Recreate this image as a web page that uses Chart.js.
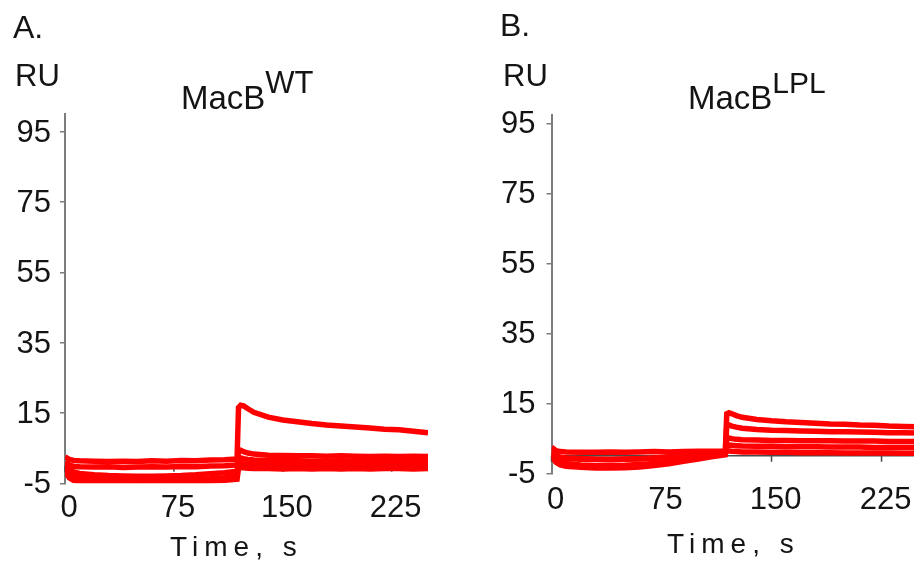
<!DOCTYPE html>
<html>
<head>
<meta charset="utf-8">
<script src="https://cdn.jsdelivr.net/npm/chart.js@4"></script>
<style>
  html, body { margin: 0; padding: 0; background: #fff; }
  #wrap { position: relative; width: 914px; height: 565px; overflow: hidden; background: #fff; }
  canvas { position: absolute; top: 0; }
  #cA { left: 0; }
  #cB { left: 487px; }
</style>
</head>
<body>
<div id="wrap">
  <canvas id="cA" width="457" height="565" style="width:457px;height:565px"></canvas>
  <canvas id="cB" width="440" height="565" style="width:440px;height:565px"></canvas>
</div>
<script>
// Sampling times of the sensorgrams (s); injection starts just before 120 s
const times = [0, 3, 6, 10, 20, 30, 40, 50, 60, 70, 80, 90, 100, 110, 118.5, 119.5,
               121, 123, 126, 130, 140, 150, 160, 170, 180, 190, 200, 210, 220, 230, 240, 250];

// Axis ticks
const ruTicks = [-5, 15, 35, 55, 75, 95];
const timeTicks = [0, 75, 150, 225];

// Response (RU) of MacB WT, one array per analyte concentration
const wt1 = [2.5, 1.8, 1.5, 1.4, 1.3, 1.2, 1.3, 1.2, 1.4, 1.3, 1.5, 1.4, 1.6, 1.7, 1.9, 16.5,
             17.2, 17.0, 16.2, 15.2, 13.8, 13.0, 12.5, 12.0, 11.6, 11.3, 11.0, 10.7, 10.4, 10.2, 9.8, 9.4];
const wt2 = [1.0, 0.2, -0.2, -0.3, -0.4, -0.3, -0.5, -0.4, -0.3, -0.4, -0.2, -0.3, -0.1, 0.0, 0.2, 4.2,
             4.4, 4.0, 3.6, 3.3, 3.0, 2.9, 2.8, 2.8, 2.7, 2.8, 2.7, 2.6, 2.7, 2.6, 2.7, 2.6];
const wt3 = [0.5, -1.0, -1.8, -2.2, -2.6, -2.8, -2.9, -3.0, -3.0, -2.9, -2.8, -2.6, -2.3, -2.0, -1.6, 2.0,
             2.2, 2.0, 1.8, 1.6, 1.5, 1.4, 1.4, 1.3, 1.3, 1.4, 1.3, 1.2, 1.3, 1.2, 1.3, 1.2];
const wt4 = [-0.5, -2.2, -3.0, -3.4, -3.8, -4.0, -4.1, -4.2, -4.1, -4.1, -4.0, -3.9, -3.7, -3.4, -3.0, 0.6,
             0.8, 0.6, 0.4, 0.3, 0.2, 0.2, 0.1, 0.2, 0.1, 0.2, 0.1, 0.2, 0.1, 0.2, 0.1, 0.2];
const wt5 = [-1.5, -3.5, -4.2, -4.5, -4.7, -4.9, -5.0, -5.0, -4.9, -4.9, -4.8, -4.6, -4.4, -4.1, -3.8, -0.6,
             -0.5, -0.6, -0.7, -0.8, -0.8, -0.9, -0.8, -0.9, -0.8, -0.9, -0.8, -0.9, -0.8, -0.8, -0.9, -0.8];

// Response (RU) of MacB LPL
const lpl1 = [2.5, 1.5, 1.2, 1.1, 1.0, 1.0, 1.1, 1.0, 1.1, 1.2, 1.1, 1.2, 1.3, 1.3, 1.4, 12.0,
              12.3, 12.0, 11.5, 11.0, 10.4, 10.0, 9.7, 9.5, 9.3, 9.1, 9.0, 8.8, 8.7, 8.5, 8.4, 8.3];
const lpl2 = [1.5, 0.2, -0.5, -0.8, -1.0, -1.0, -1.0, -0.9, -0.8, -0.6, -0.3, 0.0, 0.3, 0.6, 0.9, 8.6,
              8.8, 8.5, 8.2, 7.9, 7.5, 7.3, 7.2, 7.1, 7.0, 6.9, 6.9, 6.8, 6.7, 6.6, 6.6, 6.5];
const lpl3 = [0.5, -1.0, -1.8, -2.2, -2.6, -2.8, -2.8, -2.7, -2.5, -2.2, -1.8, -1.2, -0.6, 0.0, 0.5, 5.0,
              5.1, 4.9, 4.7, 4.6, 4.5, 4.4, 4.4, 4.3, 4.3, 4.3, 4.2, 4.2, 4.2, 4.1, 4.1, 4.1];
const lpl4 = [0.0, -1.8, -2.6, -3.0, -3.3, -3.5, -3.5, -3.4, -3.2, -2.8, -2.3, -1.6, -0.9, -0.2, 0.3, 3.0,
              3.1, 3.0, 2.9, 2.8, 2.7, 2.7, 2.6, 2.6, 2.6, 2.5, 2.5, 2.5, 2.4, 2.4, 2.4, 2.4];
const lpl5 = [1.0, 0.0, -0.4, -0.6, -0.8, -1.0, -1.1, -1.0, -0.9, -0.7, -0.5, -0.2, 0.1, 0.4, 0.7, 1.3,
              1.4, 1.3, 1.2, 1.1, 1.1, 1.0, 1.0, 0.9, 0.9, 0.9, 0.8, 0.8, 0.8, 0.8, 0.7, 0.7];

const FONT = '"Liberation Sans", Arial, Helvetica, sans-serif';
const TEXT = '#141414';
const AXIS = '#7c7c7c';

// Free-standing texts: panel letter, unit, title with superscript, axis title
const panelText = {
  id: 'panelText',
  afterDraw(chart, args, opts) {
    const ctx = chart.ctx;
    ctx.save();
    ctx.fillStyle = TEXT;
    ctx.textAlign = 'left';
    ctx.textBaseline = 'alphabetic';
    for (const it of opts.items) {
      ctx.font = it.size + 'px ' + FONT;
      ctx.letterSpacing = (it.spacing || 0) + 'px';
      ctx.fillText(it.text, it.x, it.y);
      if (it.sup) {
        const w = ctx.measureText(it.text).width;
        ctx.font = it.supSize + 'px ' + FONT;
        ctx.fillText(it.sup, it.x + w, it.supY);
      }
      ctx.letterSpacing = '0px';
    }
    ctx.restore();
  }
};

// Time axis drawn along RU = 0, underneath the traces
const zeroAxis = {
  id: 'zeroAxis',
  beforeDatasetsDraw(chart) {
    const { ctx, chartArea, scales } = chart;
    const y0 = scales.y.getPixelForValue(0);
    ctx.save();
    ctx.strokeStyle = '#4a4a4a';
    ctx.lineWidth = 1.5;
    ctx.beginPath();
    ctx.moveTo(chartArea.left, y0);
    ctx.lineTo(chartArea.right, y0);
    for (const t of timeTicks) {
      const x = scales.x.getPixelForValue(t);
      ctx.moveTo(x, y0);
      ctx.lineTo(x, y0 + 6);
    }
    ctx.stroke();
    ctx.restore();
  }
};

function makeDatasets(traces) {
  return traces.map(vals => ({
    data: vals.map((v, i) => ({ x: times[i], y: v })),
    borderColor: '#ff0000',
    backgroundColor: '#ff0000',
    borderWidth: 5.5,
    pointRadius: 0,
    tension: 0,
    fill: false
  }));
}

function makeChart(id, traces, cfg) {
  return new Chart(document.getElementById(id), {
    type: 'line',
    data: { datasets: makeDatasets(traces) },
    options: {
      responsive: false,
      animation: false,
      events: [],
      layout: { padding: cfg.padding },
      plugins: {
        legend: { display: false },
        tooltip: { enabled: false },
        panelText: { items: cfg.texts }
      },
      scales: {
        x: {
          type: 'linear',
          min: 0,
          max: 250,
          afterBuildTicks: s => { s.ticks = timeTicks.map(v => ({ value: v })); },
          afterFit: s => { s.height = cfg.xHeight; },
          grid: { display: false, drawTicks: false },
          border: { display: false },
          ticks: {
            font: { family: FONT, size: 31 },
            color: TEXT,
            padding: cfg.xPad,
            labelOffset: 4,
            maxRotation: 0,
            autoSkip: false
          }
        },
        y: {
          min: -5,
          max: cfg.yMax,
          afterBuildTicks: s => { s.ticks = ruTicks.map(v => ({ value: v })); },
          afterFit: s => { s.width = cfg.yWidth; },
          grid: {
            display: true,
            drawOnChartArea: false,
            drawTicks: true,
            tickLength: 5,
            color: AXIS,
            lineWidth: 1.5
          },
          border: { display: true, color: AXIS, width: 2 },
          ticks: {
            font: { family: FONT, size: 31 },
            color: TEXT,
            padding: cfg.yPad,
            labelOffset: 1.5,
            autoSkip: false
          }
        }
      }
    },
    plugins: [zeroAxis, panelText]
  });
}

makeChart('cA', [wt1, wt2, wt3, wt4, wt5], {
  padding: { top: 114, left: 0, right: 29, bottom: 0 },
  yMax: 100,
  yWidth: 65,
  yPad: 9,
  xHeight: 81.7,
  xPad: 6.5,
  texts: [
    { text: 'A.', x: 13, y: 38, size: 32 },
    { text: 'RU', x: 15, y: 86, size: 31 },
    { text: 'MacB', x: 181, y: 109, size: 33, sup: 'WT', supSize: 31, supY: 93 },
    { text: 'Time, s', x: 170, y: 556, size: 28, spacing: 6 }
  ]
});

makeChart('cB', [lpl1, lpl2, lpl3, lpl4, lpl5], {
  padding: { top: 115, left: 0, right: 8.8, bottom: 0 },
  yMax: 97.4,
  yWidth: 64.5,
  yPad: 11,
  xHeight: 91.7,
  xPad: 9,
  texts: [
    { text: 'B.', x: 13, y: 36, size: 32 },
    { text: 'RU', x: 16, y: 86, size: 31 },
    { text: 'MacB', x: 201, y: 109, size: 33, sup: 'LPL', supSize: 30, supY: 93 },
    { text: 'Time, s', x: 180, y: 553, size: 28, spacing: 6 }
  ]
});
</script>
</body>
</html>
